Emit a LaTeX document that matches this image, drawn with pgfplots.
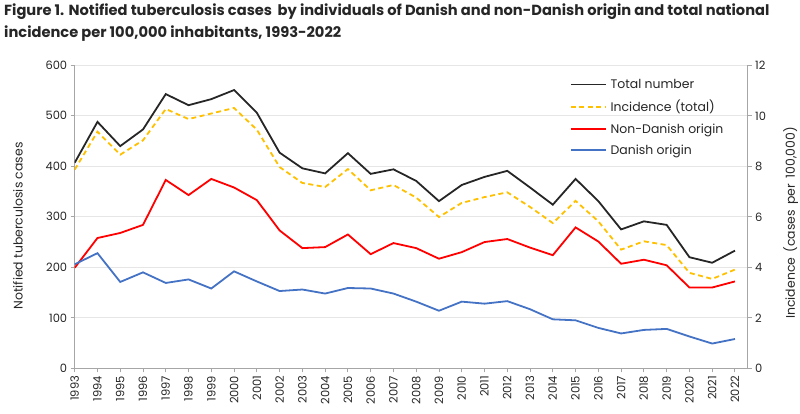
\documentclass[border=0pt]{standalone}
\usepackage{fontspec}
\setmainfont{Poppins}
\usepackage{pgfplots}
\usepackage{pgfplotstable}
\pgfplotsset{compat=1.18}
\definecolor{cblack}{HTML}{262626}
\definecolor{cyel}{HTML}{FFC000}
\definecolor{cred}{HTML}{FF0000}
\definecolor{cblue}{HTML}{4472C4}
\definecolor{axgray}{HTML}{A6A6A6}
\definecolor{gridgray}{HTML}{E6E6E6}
\definecolor{txt}{HTML}{262626}

\pgfplotstableread{
year total inc non dan
1993 407 7.87 199 206
1994 488 9.37 258 228
1995 440 8.46 268 171
1996 473 9.03 284 190
1997 543 10.27 373 169
1998 521 9.87 343 176
1999 533 10.09 375 158
2000 551 10.31 358 192
2001 506 9.45 333 172
2002 427 7.97 273 153
2003 396 7.34 238 156
2004 386 7.18 240 148
2005 426 7.89 265 159
2006 385 7.05 226 158
2007 394 7.26 248 148
2008 371 6.76 238 132
2009 331 5.99 217 114
2010 363 6.55 230 132
2011 379 6.78 250 128
2012 391 6.97 256 133
2013 358 6.39 239 117
2014 324 5.75 224 97
2015 375 6.63 279 95
2016 331 5.82 251 80
2017 275 4.70 207 69
2018 291 5.03 215 76
2019 284 4.88 204 78
2020 220 3.78 160 63
2021 209 3.54 160 49
2022 233 3.91 172 58
}\data

\pgfplotsset{
  base/.style={
    width=673bp, height=303bp, scale only axis,
    at={(74.7bp,45.7bp)}, anchor=south west,
    xmin=1993, xmax=2022.56,
    axis line style={axgray, line width=0.8bp},
    tick style={axgray, line width=0.8bp},
    major tick length=4bp, tick align=outside,
    /pgf/number format/assume math mode=true,
    /pgf/number format/1000 sep={},
    tick label style={text=txt},
  },
}

\begin{document}
\begin{tikzpicture}
\useasboundingbox (0,0) rectangle (800bp,414bp);
\node[anchor=north west, align=left, text=txt, font=\fontsize{14.7}{22}\selectfont\bfseries, inner sep=0pt] at (4bp,410bp)
  {Figure 1. Notified tuberculosis cases\, by individuals of Danish and non-Danish origin and total national\\
   incidence per 100,000 inhabitants, 1993-2022};

\begin{axis}[base,
  ymin=0, ymax=600, ytick={0,100,...,600},
  xtick={1993,1994,...,2022},
  axis x line*=bottom, axis y line*=left,
  ymajorgrids, grid style={gridgray, line width=0.8bp},
  xticklabel style={rotate=90, anchor=east, font=\fontsize{11.5}{12}\selectfont},
  yticklabel style={font=\fontsize{11.5}{13}\selectfont},
  every axis y label/.style={at={(axis description cs:-0.0843,0.47)}, rotate=90, anchor=center,
    text=txt, font=\fontsize{12.5}{14}\selectfont},
  ylabel={Notified tuberculosis cases},
  legend style={at={(rel axis cs:0.731,0.968)}, anchor=north west, draw=none, fill=none,
    font=\fontsize{12.5}{14}\selectfont, text=txt, row sep=6.3bp,
    /tikz/every odd column/.append style={column sep=2bp}},
  legend cell align=left,
  legend image code/.code={\draw[#1] (0bp,0bp) -- (35bp,0bp);},
]
\addplot[cblack, line width=1.8bp] table[x=year, y=total] {\data};
\addlegendentry{Total number}
\addlegendimage{cyel, line width=1.8bp, dash pattern=on 5bp off 3.5bp}
\addlegendentry{Incidence (total)}
\addplot[cred, line width=1.8bp] table[x=year, y=non] {\data};
\addlegendentry{Non-Danish origin}
\addplot[cblue, line width=1.8bp] table[x=year, y=dan] {\data};
\addlegendentry{Danish origin}
\end{axis}

\begin{axis}[base,
  ymin=0, ymax=12, ytick={0,2,...,12},
  axis x line=none, axis y line*=right,
  xtick=\empty,
  yticklabel style={font=\fontsize{11.5}{13}\selectfont},
  every axis y label/.style={at={(axis description cs:1.064,0.48)}, rotate=90, anchor=center,
    text=txt, font=\fontsize{12.5}{14}\selectfont},
  ylabel={Incidence\, (cases\, per\, 100,000)},
]
\addplot[cyel, line width=1.8bp, dash pattern=on 5bp off 3.5bp] table[x=year, y=inc] {\data};
\end{axis}
\end{tikzpicture}
\end{document}
